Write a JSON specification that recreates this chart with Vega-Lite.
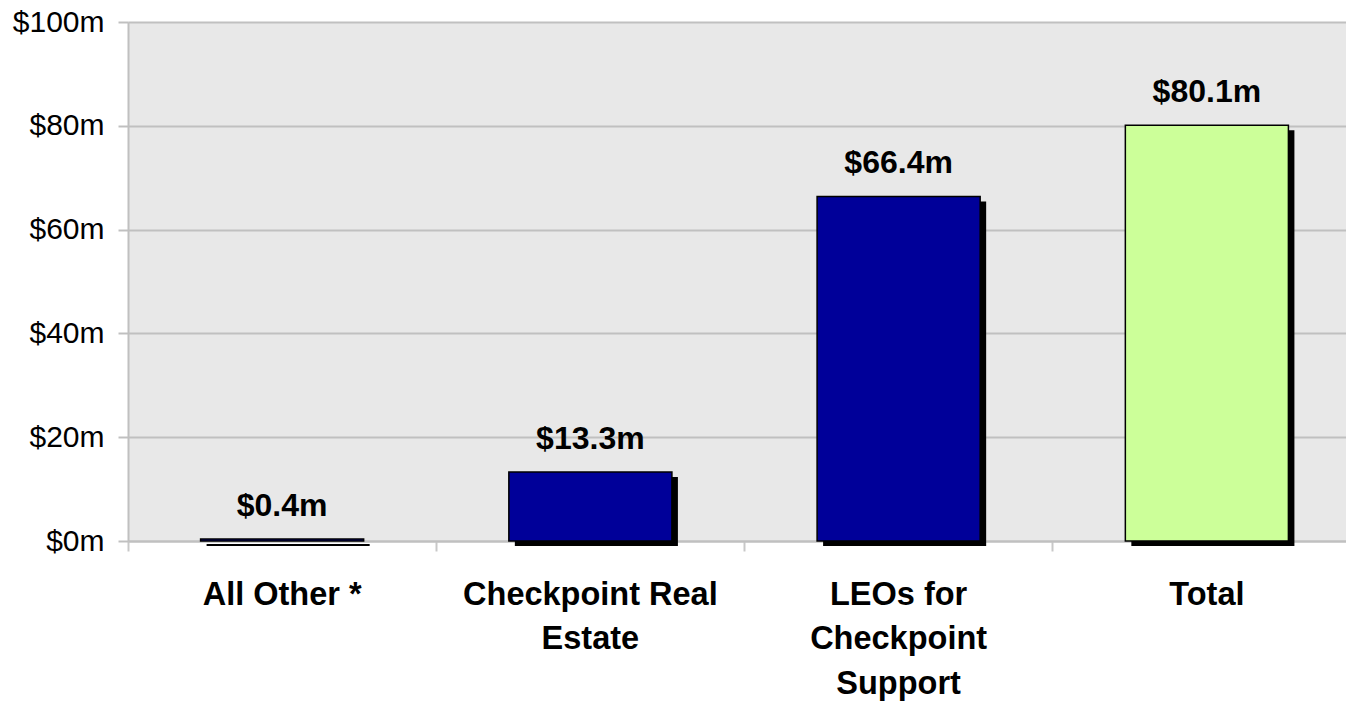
{
  "$schema": "https://vega.github.io/schema/vega-lite/v6.json",
  "autosize": {"type": "none"},
  "padding": {"left": 128, "top": 22, "right": 0, "bottom": 160},
  "width": 1233,
  "height": 519,
  "background": "white",
  "config": {
    "view": {"fill": "#e8e8e8", "stroke": null},
    "font": "Liberation Sans"
  },
  "data": {
    "values": [
      {"category": "All Other *", "value": 0.4, "label": "$0.4m", "kind": "component"},
      {"category": "Checkpoint Real|Estate", "value": 13.3, "label": "$13.3m", "kind": "component"},
      {"category": "LEOs for|Checkpoint|Support", "value": 66.4, "label": "$66.4m", "kind": "component"},
      {"category": "Total", "value": 80.1, "label": "$80.1m", "kind": "total"}
    ]
  },
  "encoding": {
    "x": {
      "field": "category",
      "type": "nominal",
      "sort": null,
      "scale": {"paddingInner": 0.471, "paddingOuter": 0.2355},
      "axis": {
        "title": null,
        "labelAngle": 0,
        "labelExpr": "split(datum.label, '|')",
        "labelFont": "Liberation Sans",
        "labelFontSize": 32.5,
        "labelFontWeight": "bold",
        "labelColor": "black",
        "labelLineHeight": 44.5,
        "labelPadding": 27,
        "labelBaseline": "top",
        "labelLimit": 0,
        "bandPosition": -0.445,
        "tickSize": 10,
        "tickColor": "#c8c8c8",
        "tickWidth": 2,
        "domainColor": "#c0c0c0",
        "domainWidth": 2,
        "grid": false
      }
    },
    "y": {
      "field": "value",
      "type": "quantitative",
      "scale": {"domain": [0, 100]},
      "axis": {
        "title": null,
        "values": [0, 20, 40, 60, 80, 100],
        "labelExpr": "'$' + datum.value + 'm'",
        "labelFont": "Liberation Sans",
        "labelFontSize": 30,
        "labelColor": "black",
        "labelPadding": 14,
        "tickSize": 10,
        "tickColor": "#c0c0c0",
        "tickWidth": 2,
        "domainColor": "#c0c0c0",
        "domainWidth": 2,
        "grid": true,
        "gridColor": "#c0c0c0",
        "gridWidth": 2
      }
    }
  },
  "layer": [
    {"mark": {"type": "bar", "color": "black", "xOffset": 6, "yOffset": 5, "y2Offset": 2}},
    {
      "mark": {"type": "bar", "stroke": "black", "strokeWidth": 1.5},
      "encoding": {
        "color": {
          "field": "kind",
          "type": "nominal",
          "scale": {"domain": ["component", "total"], "range": ["#000099", "#ccff99"]},
          "legend": null
        }
      }
    },
    {
      "mark": {"type": "text", "fontSize": 32, "fontWeight": "bold", "dy": -23, "baseline": "alphabetic", "color": "black", "font": "Liberation Sans"},
      "encoding": {"text": {"field": "label"}}
    }
  ]
}
